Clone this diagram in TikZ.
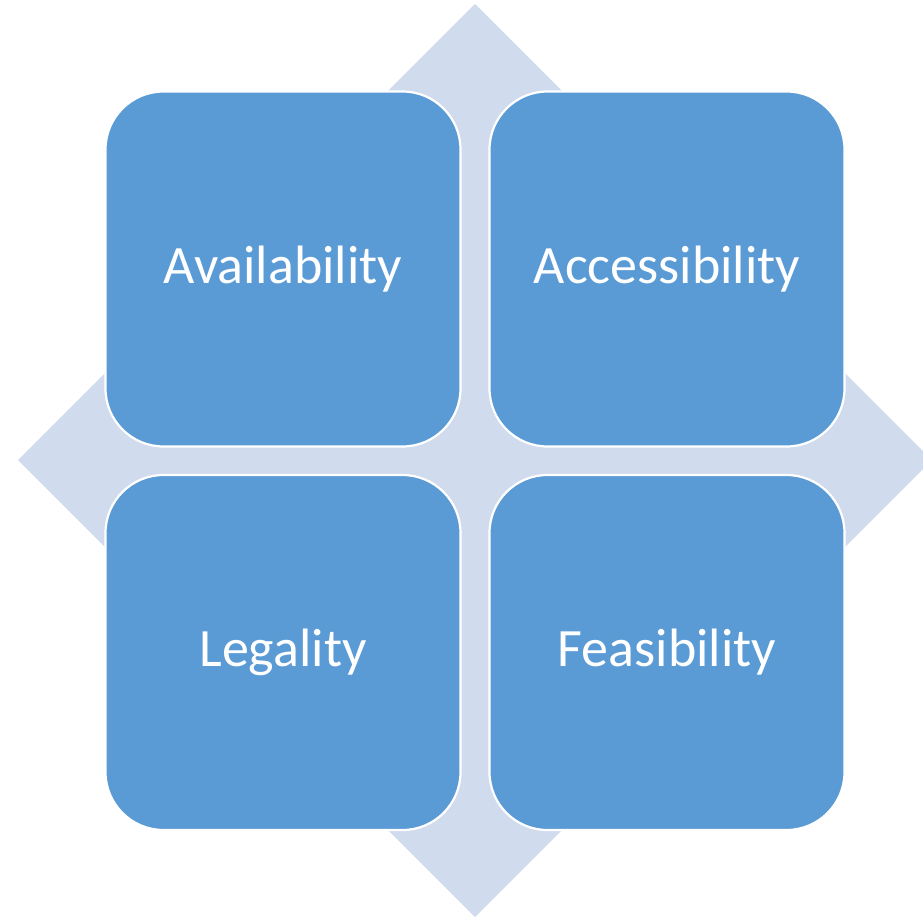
\documentclass[tikz,border=0pt]{standalone}
\usepackage{fontspec}
\setmainfont{Carlito}
\usepackage{xcolor}
\definecolor{boxblue}{HTML}{5B9BD5}
\definecolor{backdiamond}{HTML}{D0DBEE}
\tikzset{
  quadbox/.style={draw=white, line width=2.2pt, fill=boxblue, rectangle, rounded corners=58pt,
    minimum width=355pt, minimum height=355pt, text=white,
    font=\fontsize{54}{64}\selectfont}
}

\begin{document}
\begin{tikzpicture}[x=1pt,y=-1pt]
\useasboundingbox (0,0) rectangle (923,917);
\clip (0,0) rectangle (923,917);
\fill[backdiamond] (475,4) -- (932,460) -- (475,917) -- (18,460) -- cycle;
\node[quadbox] (avail) at (283,269) {Availability};
\node[quadbox] (access) at (667,269) {Accessibility};
\node[quadbox] (legal) at (283,652.5) {Legality};
\node[quadbox] (feas) at (667,652.5) {Feasibility};
\end{tikzpicture}
\end{document}
